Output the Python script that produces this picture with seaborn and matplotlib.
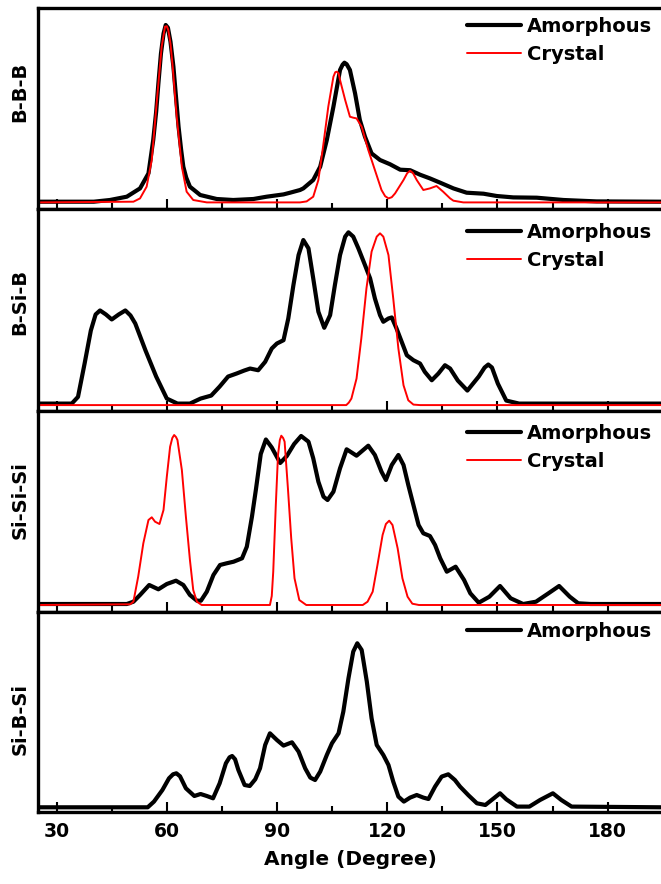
import matplotlib
matplotlib.use("Agg")
import matplotlib.pyplot as plt
import seaborn as sns
import pandas as pd
from matplotlib.lines import Line2D
from matplotlib.ticker import FixedLocator

# ---------------- data ----------------
panel_labels = ["B-B-B", "B-Si-B", "Si-Si-Si", "Si-B-Si"]
series_names = ["Amorphous", "Crystal"]
x_major_ticks = [30, 60, 90, 120, 150, 180]
x_minor_ticks = [45, 75, 105, 135, 165]
x_label = "Angle (Degree)"

bbb_amor_x = [24.8, 40, 44.4, 49.0, 52.6, 54.9, 56.2, 57.0, 57.6, 58.3, 59.0, 59.6, 60.2, 60.9, 61.7,
              62.4, 63.1, 63.8, 64.4, 65.2, 66.2, 69.0, 73.5, 78.0, 83.5, 87.1, 91.7, 93.5, 96.2, 97.1,
              99.8, 101.7, 103.5, 105.3, 107.1, 107.8, 108.3, 108.9, 109.8, 111.2, 112.5, 113.9, 115.7,
              118.0, 120.7, 123.5, 126.2, 128.9, 131.6, 134.4, 138.0, 141.6, 146.2, 149.8, 154.3, 160.7,
              168.0, 177.0, 195]
bbb_amor_y = [0, 0, 1.7, 5, 13.3, 28.3, 61.7, 90, 118, 148, 168, 176.7, 174, 160, 135,
              105, 75, 52, 35, 24, 15, 6.7, 2.7, 1.7, 2.7, 5, 7.3, 9, 11.7, 13.3,
              21.7, 35, 61.7, 95, 131.7, 137, 139, 137.5, 131.7, 108.3, 81.7, 65, 48.3,
              41.7, 37.5, 32, 31.5, 27, 23.3, 19, 13.3, 9, 8, 5.7, 4.3, 4,
              1.7, 0.3, 0]

bbb_cry_x = [24.8, 50.8, 52.6, 54.4, 55.8, 57.2, 58.5, 59.0, 59.4, 59.9, 60.3, 60.9, 61.5, 62.6, 64.0,
             65.3, 67.1, 70.8, 96.2, 98.0, 99.8, 101.2, 102.6, 103.9, 105.3, 105.8, 106.2, 106.7, 107.1,
             108.5, 109.8, 110.7, 111.6, 113.0, 114.8, 116.6, 118.4, 119.4, 120.3, 121.2, 122.1, 124.4,
             125.4, 126.2, 127.0, 128.0, 129.8, 131.6, 133.4, 135.2, 137.1, 138.0, 140.7, 195]
bbb_cry_y = [-0.7, 0, 3.3, 15, 41.7, 101.7, 155, 166, 175, 175.5, 171.7, 158, 135, 85, 35,
             10, 1.7, -0.7, -0.7, 0.3, 5, 21.7, 58.3, 95, 125, 129.5, 130, 128.5, 121.7,
             101.7, 85, 84, 83.3, 75, 51.7, 31.7, 11.7, 5.5, 3.3, 4.5, 8.3, 21.7,
             28.5, 31, 28.5, 21.7, 11.7, 13.3, 15.7, 10, 3.3, 1, -0.7, -0.7]

bsib_amor_x = [24.8, 34.0, 35.7, 37.5, 39.2, 40.5, 41.7, 43.3, 44.9, 46.8, 48.6, 50.0, 51.3, 54.1, 57.0,
               59.9, 62.8, 66.2, 69.1, 72.0, 74.3, 76.6, 78.9, 81.0, 82.6, 84.8, 86.7, 88.5, 89.9, 91.7,
               93.0, 94.4, 95.8, 97.1, 98.5, 99.8, 101.2, 102.8, 104.4, 105.7, 107.1, 108.5, 109.4,
               110.7, 112.1, 113.9, 115.3, 116.6, 118.0, 118.9, 120.3, 121.2, 122.5, 123.9, 125.3,
               127.1, 128.9, 130.2, 132.1, 133.9, 135.7, 137.1, 139.2, 141.8, 144.9, 146.5, 147.5,
               148.5, 150.1, 152.4, 155.9, 195]
bsib_amor_y = [0, 0, 6.7, 40, 73, 89, 93, 89, 84, 89, 93, 88, 80, 53, 27,
               5, 0, 0, 5, 8, 17, 27, 30, 33, 35, 33.3, 41.7, 55, 60, 63.3,
               85, 118.3, 148.3, 163.3, 155, 125, 91.7, 75.7, 88.3, 118.3, 148.3, 166.7, 171,
               166.7, 155, 138.3, 125, 105, 88.3, 81.7, 85, 86, 75, 61.7, 48.3,
               43.3, 40, 31.7, 23.3, 30, 38.3, 35, 23, 13, 27, 36, 39,
               36, 20, 3, 0, 0]

bsib_cry_x = [24.8, 108.8, 109.5, 110.2, 111.6, 112.9, 114.3, 115.7, 117.1, 118.0, 118.9, 120.3, 121.6,
              123.0, 124.4, 125.7, 127.1, 128.9, 195]
bsib_cry_y = [-1.5, -1.5, 1, 5, 25, 65, 115, 151.7, 166.7, 170, 166.7, 148.3, 105,
              55, 18.3, 3.3, -1, -1.5, -1.5]

sisisi_amor_x = [24.8, 49.0, 50.8, 52.6, 55.1, 57.6, 59.9, 62.4, 64.4, 66.2, 68.1, 69.2, 70.8, 72.6, 74.4,
                 76.2, 78.1, 80.4, 81.7, 83.1, 84.2, 85.5, 86.9, 88.5, 90.8, 92.6, 94.6, 96.5, 98.5,
                 99.8, 101.2, 102.6, 103.7, 105.3, 107.1, 108.9, 111.6, 114.8, 116.6, 118.4, 119.6,
                 121.2, 123.0, 124.4, 125.7, 127.1, 128.5, 129.8, 131.6, 133.0, 134.4, 136.2, 138.6,
                 140.9, 142.6, 144.9, 147.8, 150.7, 153.6, 157.0, 160.5, 163.9, 166.8, 169.7, 172.0,
                 175.4, 195]
sisisi_amor_y = [0, 0, 2.3, 9, 19, 14.7, 20, 23.3, 19, 9, 3.3, 3.3, 12.3, 29, 39,
                 40.7, 42.3, 45.7, 57.3, 87.3, 115, 150, 164.5, 156.5, 141, 148, 160, 168, 162.3,
                 145.7, 122.3, 107.3, 104, 112.3, 135.7, 154.7, 148.3, 158.3, 149, 132.3, 124,
                 139, 149, 139, 119, 99, 79, 70.7, 68, 59, 45.7, 32.3, 37.3,
                 24, 10.7, 1.3, 7.3, 18, 5.7, 0, 2.3, 10.7, 18, 7.3, 0.7,
                 0, 0]

sisisi_cry_x = [24.8, 49.9, 50.8, 52.1, 53.5, 54.9, 55.8, 56.7, 57.9, 59.0, 59.9, 60.8, 61.4, 61.9, 62.4,
                62.8, 64.0, 65.1, 66.2, 67.1, 68.1, 69.4, 88.0, 88.5, 88.9, 89.6, 90.2, 90.7, 91.1,
                91.6, 92.0, 92.9, 93.8, 94.7, 96.0, 97.9, 113.3, 114.6, 116.0, 117.3, 118.7, 119.6,
                120.5, 121.4, 122.8, 124.1, 125.5, 126.8, 128.6, 195]
sisisi_cry_y = [-1, -0.3, 2.3, 27.3, 60.7, 84, 86.7, 82.3, 80, 94, 127.3, 157.3, 166, 169, 167,
                164, 134, 87.3, 44, 14, 2.3, -1, -1, 8, 32.3, 99, 149, 164, 168.3,
                166, 162.3, 115.7, 65.7, 25.7, 4, -1, -1, 2.3, 12.3, 39, 69, 80,
                83.3, 79, 55.7, 25.7, 7.3, 0.3, -1, -1]

sibsi_amor_x = [24.8, 54.7, 56.4, 58.7, 60.5, 61.6, 62.5, 63.5, 65.1, 67.4, 69.1, 70.8, 72.5, 74.3, 76.0,
                77.0, 77.7, 78.5, 79.4, 81.1, 82.5, 84.0, 85.3, 86.7, 88.0, 89.9, 91.7, 94.0, 95.8,
                97.6, 99.0, 100.3, 101.7, 103.5, 104.9, 106.7, 108.0, 109.4, 110.7, 111.8, 113.0,
                114.4, 115.7, 117.1, 118.9, 120.3, 121.6, 123.0, 124.5, 126.2, 128.0, 129.8, 131.2,
                133.0, 134.8, 136.6, 138.4, 139.8, 142.1, 144.4, 146.7, 149.0, 150.7, 152.4, 155.3,
                158.7, 161.6, 165.1, 167.4, 170.2, 195]
sibsi_amor_y = [0, 0, 5.7, 17.3, 29, 33, 34, 31, 19, 11.3, 13.3, 11.3, 9, 24, 44,
                50, 51.3, 48, 37.3, 22.3, 21.3, 28, 39, 62.3, 74, 67.3, 61.7, 65, 55.7,
                39, 29.7, 27.3, 35.7, 52.3, 64, 74, 95.7, 129, 155.7, 164, 157.3,
                125.7, 89, 62.3, 52.3, 42.3, 25.7, 10.7, 5.7, 9.7, 12.3, 9.7, 8.3,
                20.7, 30.7, 33, 27.3, 20.7, 12, 4, 2.3, 9, 14, 8, 0.7,
                0.7, 7.3, 14, 7.3, 0.7, 0]

panels = [
    [(bbb_amor_x, bbb_amor_y), (bbb_cry_x, bbb_cry_y)],
    [(bsib_amor_x, bsib_amor_y), (bsib_cry_x, bsib_cry_y)],
    [(sisisi_amor_x, sisisi_amor_y), (sisisi_cry_x, sisisi_cry_y)],
    [(sibsi_amor_x, sibsi_amor_y)],
]

# ---------------- styling / layout ----------------
sns.set_style("ticks")
plt.rcParams['font.family'] = ['DejaVu Sans']
plt.rcParams['font.weight'] = 'bold'
plt.rcParams['text.color'] = 'black'
plt.rcParams['axes.labelcolor'] = 'black'
plt.rcParams['xtick.color'] = 'black'
plt.rcParams['xtick.labelcolor'] = 'black'

W, H = 661, 884
fig = plt.figure(figsize=(W / 100, H / 100), dpi=100)

left_px, right_px = 38, 662.6
xlim = (24.8, 195.0)
bounds = [(8, 209), (209, 411), (411, 612), (612, 812)]
ylims = [(-7.3, 193.7), (-7.4, 194.3), (-8.0, 193.0), (-4.7, 195.3)]
label_centers = [92, 302, 500, 719]
legend_top_px = [9, 14, 13, 10]
colors = ["black", "red"]
widths = [3.0, 1.4]

for i, (top, bot) in enumerate(bounds):
    ax = fig.add_axes([left_px / W, 1 - bot / H, (right_px - left_px) / W, (bot - top) / H])
    handles = []
    for j, (xs, ys) in enumerate(panels[i]):
        df = pd.DataFrame({"angle": xs, "value": ys})
        sns.lineplot(data=df, x="angle", y="value", ax=ax, color=colors[j], lw=widths[j],
                     estimator=None, sort=False, zorder=1.5 + 0.1 * j,
                     solid_joinstyle='round', solid_capstyle='round')
        handles.append(Line2D([0], [0], color=colors[j], lw=widths[j]))
    ax.set_xlim(*xlim)
    ax.set_ylim(*ylims[i])
    ax.set_yticks([])
    ax.set_ylabel("")
    ax.set_xlabel("")
    ax.xaxis.set_major_locator(FixedLocator(x_major_ticks))
    ax.xaxis.set_minor_locator(FixedLocator(x_minor_ticks))
    ax.tick_params(axis='x', which='major', direction='in', length=7.5, width=1.5,
                   labelsize=13.5, pad=7, top=False, color='black', labelcolor='black')
    ax.tick_params(axis='x', which='minor', direction='in', length=4.5, width=1.5, top=False,
                   color='black')
    for s in ax.spines.values():
        s.set_linewidth(2.4)
        s.set_color("black")
    if i < 3:
        ax.tick_params(axis='x', which='both', labelbottom=False)
    else:
        ax.set_xlabel(x_label, fontsize=14.5, fontweight='bold', labelpad=7, color='black')
        for t in ax.get_xticklabels():
            t.set_fontweight('bold')
    ax.set_facecolor("white")
    lx = (467 - left_px) / (right_px - left_px)
    ly = 1 - legend_top_px[i] / (bot - top)
    leg = ax.legend(handles, series_names[:len(handles)], loc='upper left', bbox_to_anchor=(lx, ly),
                    frameon=False, handlelength=2.8, handletextpad=0.3, labelspacing=0.45,
                    borderpad=0, borderaxespad=0, prop={'size': 14, 'weight': 'bold'})
    for t in leg.get_texts():
        t.set_color('black')
    fig.text(20 / W, 1 - label_centers[i] / H, panel_labels[i], rotation=90, ha='center', va='center',
             fontsize=14, fontweight='bold', color='black')

fig.savefig("out.png", dpi=100, facecolor="white")
